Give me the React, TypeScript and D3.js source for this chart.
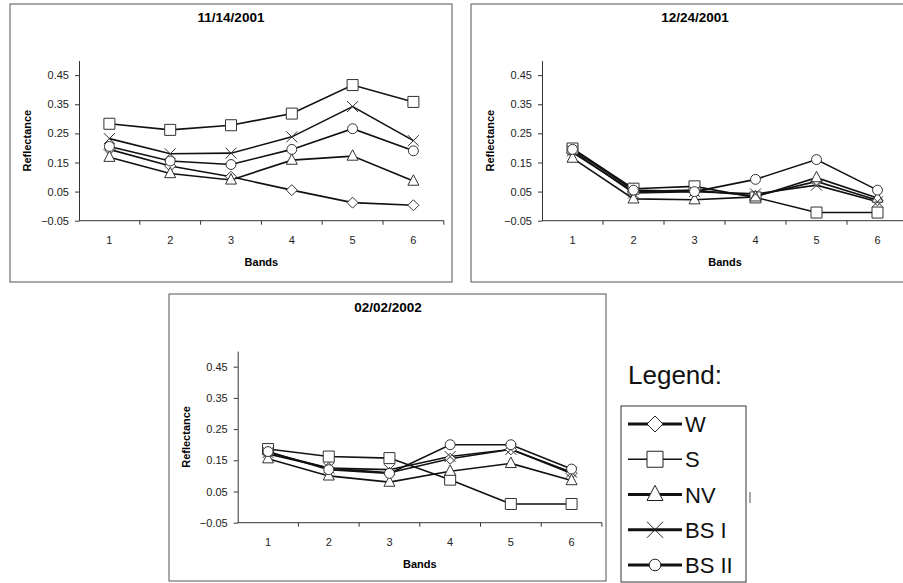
// Three reflectance panels (Bands 1-6) plus a separate legend box
import React, { useRef, useEffect } from 'react';
import * as d3 from 'd3';

const bands = ['1', '2', '3', '4', '5', '6'];
const yTicks = [-0.05, 0.05, 0.15, 0.25, 0.35, 0.45];
const seriesNames = ['W', 'S', 'NV', 'BS I', 'BS II'];
const markerShapes = ['diamond', 'square', 'triangle', 'x', 'circle'];
// legend line widths (S is thin)
const legendWidths = [3, 1.4, 3, 3, 3];

// 11/14/2001
const novW = [0.195, 0.138, 0.101, 0.055, 0.012, 0.003];
const novS = [0.283, 0.262, 0.278, 0.318, 0.416, 0.358];
const novNV = [0.168, 0.112, 0.09, 0.158, 0.172, 0.086];
const novBS1 = [0.232, 0.18, 0.182, 0.238, 0.342, 0.225];
const novBS2 = [0.205, 0.155, 0.143, 0.195, 0.266, 0.19];

// 12/24/2001
const decW = [0.185, 0.05, 0.055, 0.035, 0.085, 0.02];
const decS = [0.198, 0.06, 0.068, 0.03, -0.022, -0.022];
const decNV = [0.165, 0.025, 0.022, 0.032, 0.098, 0.028];
const decBS1 = [0.19, 0.045, 0.05, 0.042, 0.072, 0.015];
const decBS2 = [0.195, 0.055, 0.05, 0.092, 0.16, 0.055];

// 02/02/2002
const febW = [0.17, 0.125, 0.11, 0.155, 0.185, 0.108];
const febS = [0.186, 0.162, 0.157, 0.088, 0.01, 0.01];
const febNV = [0.155, 0.1, 0.08, 0.115, 0.14, 0.085];
const febBS1 = [0.175, 0.125, 0.12, 0.162, 0.185, 0.112];
const febBS2 = [0.178, 0.12, 0.108, 0.2, 0.2, 0.122];

const panels = [
  { title: '11/14/2001', series: [novW, novS, novNV, novBS1, novBS2],
    frame: [10, 4, 442, 278], titleX: 231, left: 79, bw: 60.8, top: 60.6, bottom: 220.7, ylabX: 27 },
  { title: '12/24/2001', series: [decW, decS, decNV, decBS1, decBS2],
    frame: [471, 4, 450, 278], titleX: 695, left: 542, bw: 61, top: 60.6, bottom: 220.7, ylabX: 490 },
  { title: '02/02/2002', series: [febW, febS, febNV, febBS1, febBS2],
    frame: [169, 294, 437, 287], titleX: 388, left: 237.7, bw: 60.7, top: 351.1, bottom: 522.7, ylabX: 186 },
];

const FONT = 'Arial, "Liberation Sans", sans-serif';

// marker outline path, centred on 0,0
function markerPath(shape, r) {
  if (shape === 'diamond') return `M0,${-r}L${r},0L0,${r}L${-r},0Z`;
  if (shape === 'square') return `M${-r},${-r}H${r}V${r}H${-r}Z`;
  if (shape === 'triangle') return `M0,${-r * 1.15}L${r},${r * 0.75}L${-r},${r * 0.75}Z`;
  if (shape === 'x') return `M${-r},${-r}L${r},${r}M${r},${-r}L${-r},${r}`;
  const p = d3.path();
  p.arc(0, 0, r * 0.9, 0, 2 * Math.PI);
  return p.toString();
}

const App = () => {
  const ref = useRef(null);

  useEffect(() => {
    const svg = d3.select(ref.current);
    svg.selectAll('*').remove();

    panels.forEach((pn) => {
      const g = svg.append('g');
      const [fx, fy, fw, fh] = pn.frame;
      g.append('rect').attr('x', fx).attr('y', fy).attr('width', fw).attr('height', fh)
        .attr('fill', 'white').attr('stroke', '#555').attr('stroke-width', 1);

      const x = d3.scaleBand().domain(bands).range([pn.left, pn.left + 6 * pn.bw]);
      const y = d3.scaleLinear().domain([-0.05, 0.5]).range([pn.bottom, pn.top]);

      // y axis
      const ya = g.append('g').attr('transform', `translate(${pn.left},0)`)
        .call(d3.axisLeft(y).tickValues(yTicks).tickFormat(d3.format('.2f')).tickSize(4).tickSizeOuter(0));
      ya.select('.domain').attr('stroke', '#333');
      ya.selectAll('.tick line').attr('stroke', '#333');
      ya.selectAll('.tick text').attr('font-family', FONT).attr('font-size', 11)
        .attr('fill', '#222').attr('x', -10);

      // x axis (category ticks between bands)
      const xa = g.append('g').attr('transform', `translate(0,${y(-0.05)})`);
      xa.append('line').attr('x1', pn.left).attr('x2', pn.left + 6 * pn.bw)
        .attr('stroke', '#333');
      xa.selectAll('line.tk').data(bands).enter().append('line').attr('class', 'tk')
        .attr('x1', (d) => x(d) + x.bandwidth()).attr('x2', (d) => x(d) + x.bandwidth())
        .attr('y1', 0).attr('y2', 4).attr('stroke', '#333');
      xa.selectAll('text').data(bands).enter().append('text')
        .attr('x', (d) => x(d) + x.bandwidth() / 2).attr('y', 23)
        .attr('text-anchor', 'middle').attr('font-family', FONT).attr('font-size', 11)
        .attr('fill', '#222').text((d) => d);

      // titles
      const cx = pn.left + 3 * pn.bw;
      g.append('text').attr('x', pn.titleX).attr('y', fy + 18)
        .attr('text-anchor', 'middle').attr('font-family', FONT).attr('font-weight', 'bold')
        .attr('font-size', 13.5).text(pn.title);
      g.append('text').attr('x', cx).attr('y', y(-0.05) + 45)
        .attr('text-anchor', 'middle').attr('font-family', FONT).attr('font-weight', 'bold')
        .attr('font-size', 11).text('Bands');
      g.append('text')
        .attr('transform', `translate(${pn.ylabX + 4},${(pn.top + pn.bottom) / 2}) rotate(-90)`)
        .attr('text-anchor', 'middle').attr('font-family', FONT).attr('font-weight', 'bold')
        .attr('font-size', 11).text('Reflectance');

      // lines
      const line = d3.line().x((d, i) => x(bands[i]) + x.bandwidth() / 2).y((d) => y(d));
      pn.series.forEach((vals) => {
        g.append('path').datum(vals).attr('d', line).attr('fill', 'none')
          .attr('stroke', '#111').attr('stroke-width', 1.6);
      });
      // markers
      pn.series.forEach((vals, si) => {
        g.selectAll(null).data(vals).enter().append('path')
          .attr('transform', (d, i) => `translate(${x(bands[i]) + x.bandwidth() / 2},${y(d)})`)
          .attr('d', markerPath(markerShapes[si], 5.5))
          .attr('fill', markerShapes[si] === 'x' ? 'none' : 'white')
          .attr('stroke', '#333').attr('stroke-width', 1);
      });
    });

    // legend
    const lg = svg.append('g');
    lg.append('text').attr('x', 628).attr('y', 384).attr('font-family', FONT)
      .attr('font-size', 26).attr('fill', '#111').text('Legend:');
    lg.append('rect').attr('x', 621).attr('y', 406).attr('width', 125).attr('height', 176)
      .attr('fill', 'white').attr('stroke', '#333').attr('stroke-width', 1);
    const ly = d3.scalePoint().domain(seriesNames).range([424, 565]);
    seriesNames.forEach((name, i) => {
      const yy = ly(name);
      lg.append('line').attr('x1', 628).attr('x2', 682).attr('y1', yy).attr('y2', yy)
        .attr('stroke', '#111').attr('stroke-width', legendWidths[i]);
      lg.append('path').attr('transform', `translate(655,${yy})`)
        .attr('d', markerPath(markerShapes[i], i === 4 ? 6.5 : 8))
        .attr('fill', markerShapes[i] === 'x' ? 'none' : 'white')
        .attr('stroke', '#222').attr('stroke-width', 1);
      lg.append('text').attr('x', 685).attr('y', yy + 8).attr('font-family', FONT)
        .attr('font-size', 22).attr('fill', '#111').text(name);
    });
    // stray tick mark beside the legend box
    lg.append('line').attr('x1', 750).attr('x2', 750).attr('y1', 492).attr('y2', 503)
      .attr('stroke', '#555').attr('stroke-width', 1);
  }, []);

  return (
    <svg ref={ref} width={903} height={583}
      style={{ position: 'absolute', left: 0, top: 0, background: 'white' }} />
  );
};

export default App;
